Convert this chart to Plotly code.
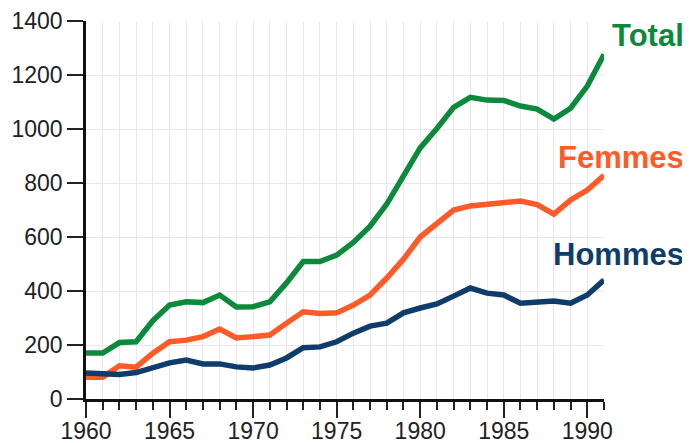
import plotly.graph_objects as go

years = list(range(1960, 1992))
total = [170, 170, 209, 212, 290, 348, 360, 357, 385, 341, 342, 360, 430, 509, 509, 533,
         580, 640, 722, 822, 930, 1002, 1080, 1117, 1107, 1106, 1085, 1074, 1037, 1077, 1159, 1276]
femmes = [81, 81, 123, 118, 170, 212, 218, 231, 259, 226, 231, 237, 281, 323, 317, 319,
          348, 385, 448, 518, 600, 652, 700, 715, 722, 730, 733, 720, 685, 737, 774, 828]
hommes = [96, 96, 91, 98, 115, 134, 144, 130, 130, 119, 115, 126, 152, 190, 193, 212,
          244, 270, 281, 319, 337, 352, 381, 411, 392, 385, 355, 359, 363, 355, 385, 441]

series = [
    ("Total", total, "#0b8a3c", 1348),
    ("Femmes", femmes, "#ff5a28", 896),
    ("Hommes", hommes, "#0e3d6b", 537),
]

fig = go.Figure()
for name, vals, color, ylab in series:
    fig.add_trace(go.Scatter(x=years, y=vals, mode="lines", name=name,
                             line=dict(color=color, width=5.5), cliponaxis=False))
    fig.add_annotation(x=1.158, xref="paper", y=ylab, yref="y", text=f"<b>{name}</b>",
                       showarrow=False, xanchor="right", yanchor="middle",
                       font=dict(family="Liberation Sans, Arial", size=31, color=color))

fig.update_layout(
    width=682, height=435,
    margin=dict(l=78, r=86, t=13, b=44),
    paper_bgcolor="white", plot_bgcolor="white",
    showlegend=False,
    font=dict(family="Liberation Sans, Arial", size=23, color="#222"),
)
fig.update_xaxes(
    range=[1960, 1991], tickvals=[1960, 1965, 1970, 1975, 1980, 1985, 1990],
    ticks="outside", ticklen=16, tickwidth=2, tickcolor="#222",
    ticklabelstandoff=-6,
    showline=True, linecolor="#111", linewidth=2.5,
    showgrid=True, gridcolor="#e8e8e8", gridwidth=1,
    minor=dict(dtick=1, tick0=1960, ticks="outside", ticklen=8, tickwidth=2, tickcolor="#222",
               showgrid=True, gridcolor="#e8e8e8", gridwidth=1),
    zeroline=False, automargin=False,
)
fig.update_yaxes(
    range=[0, 1400], dtick=200,
    ticks="outside", ticklen=16, tickwidth=2, tickcolor="#222",
    showline=True, linecolor="#111", linewidth=2.5,
    showgrid=True, gridcolor="#e8e8e8", gridwidth=1,
    zeroline=False, automargin=False,
)
fig.write_html("out.html")
